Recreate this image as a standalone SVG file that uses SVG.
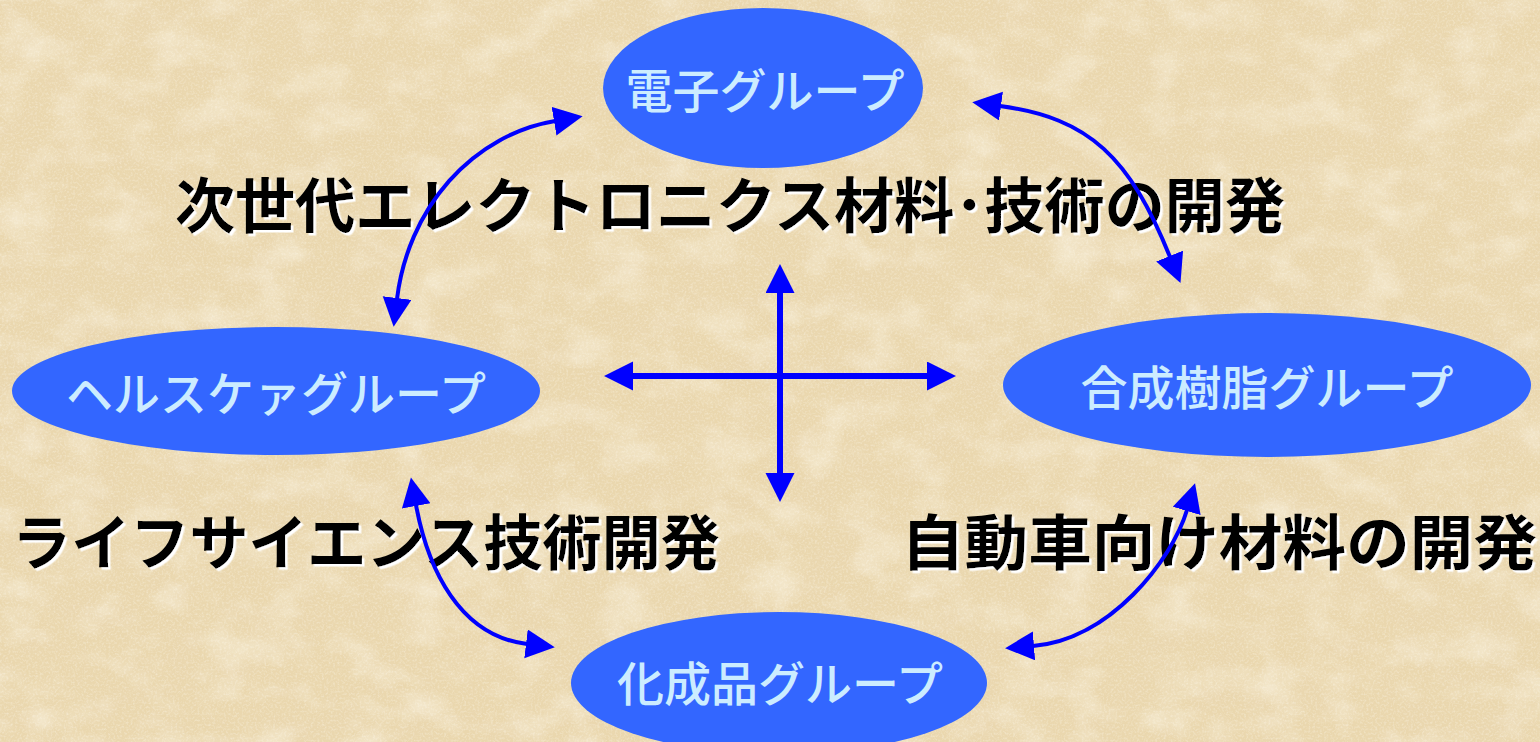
<svg xmlns="http://www.w3.org/2000/svg" width="1540" height="742" viewBox="0 0 1540 742">
<style>
.node ellipse{fill:#3366FF;}
.node text{fill:#CCECFF;font-family:"Noto Sans CJK JP","Noto Sans CJK SC",sans-serif;font-size:47px;font-weight:500;text-anchor:middle;}
.label{fill:#000;font-family:"Noto Sans CJK JP","Noto Sans CJK SC",sans-serif;font-size:60px;font-weight:700;text-anchor:middle;filter:url(#whiteShadow);}
.conn path{fill:none;stroke:#0000FF;marker-start:url(#ah);marker-end:url(#ah);}
.curve{stroke-width:4;}
.straight{stroke-width:6;}
</style>
<defs>
<marker id="ah" markerUnits="userSpaceOnUse" markerWidth="32" markerHeight="32" refX="1" refY="14.5" orient="auto-start-reverse">
<path d="M0,0 L29,14.5 L0,29 Z" fill="#0000FF"/>
</marker>
<filter id="whiteShadow" x="-5%" y="-20%" width="110%" height="150%">
<feDropShadow dx="2.5" dy="2.5" stdDeviation="0" flood-color="#FFFFFF" flood-opacity="1"/>
</filter>
<filter id="paperLight" x="0" y="0" width="100%" height="100%">
<feTurbulence type="fractalNoise" baseFrequency="0.02 0.03" numOctaves="5" seed="3"/>
<feColorMatrix type="matrix" values="0 0 0 0 0.99  0 0 0 0 0.95  0 0 0 0 0.84  1.0 0 0 0 -0.45"/>
</filter>
<filter id="paperDark" x="0" y="0" width="100%" height="100%">
<feTurbulence type="fractalNoise" baseFrequency="0.025 0.035" numOctaves="5" seed="11"/>
<feColorMatrix type="matrix" values="0 0 0 0 0.82  0 0 0 0 0.68  0 0 0 0 0.45  1.0 0 0 0 -0.45"/>
</filter>
<filter id="paperGrain" x="0" y="0" width="100%" height="100%">
<feTurbulence type="fractalNoise" baseFrequency="0.45" numOctaves="2" seed="5"/>
<feColorMatrix type="matrix" values="0 0 0 0 1  0 0 0 0 0.97  0 0 0 0 0.88  1.6 0 0 0 -0.7"/>
</filter>
</defs>
<g id="background">
<rect x="0" y="0" width="1540" height="742" fill="#EAD7AE"/>
<rect x="0" y="0" width="1540" height="742" filter="url(#paperDark)"/>
<rect x="0" y="0" width="1540" height="742" filter="url(#paperLight)"/>
<rect x="0" y="0" width="1540" height="742" filter="url(#paperGrain)" opacity="0.5"/>
</g>
<g id="node-denshi" class="node">
<ellipse cx="763" cy="88" rx="160" ry="80"/>
<text x="765" y="108">電子グループ</text>
</g>
<g id="node-healthcare" class="node">
<ellipse cx="276" cy="391" rx="264" ry="64"/>
<text x="276" y="411">ヘルスケァグループ</text>
</g>
<g id="node-gosei" class="node">
<ellipse cx="1267" cy="385" rx="264" ry="72"/>
<text x="1267" y="405">合成樹脂グループ</text>
</g>
<g id="node-kasei" class="node">
<ellipse cx="779" cy="683" rx="208" ry="71"/>
<text x="780" y="701">化成品グループ</text>
</g>
<g id="labels">
<text class="label" x="730" y="228" textLength="1110" lengthAdjust="spacingAndGlyphs">次世代エレクトロニクス材料･技術の開発</text>
<text class="label" x="366" y="565" textLength="708" lengthAdjust="spacingAndGlyphs">ライフサイエンス技術開発</text>
<text class="label" x="1219" y="565" textLength="636" lengthAdjust="spacingAndGlyphs">自動車向け材料の開発</text>
</g>
<g id="connectors" class="conn">
<path class="curve" d="M555,121 A188,208 0 0 0 397,299"/>
<path class="curve" d="M1000,106 C1090,118 1130,158 1170,257"/>
<path class="curve" d="M416,505 C428,570 460,636 527,644"/>
<path class="curve" d="M1187,510 C1172,560 1110,640 1033,646"/>
<path class="straight" d="M780,292 L780,474"/>
<path class="straight" d="M632,376 L928,376"/>
</g>
</svg>
